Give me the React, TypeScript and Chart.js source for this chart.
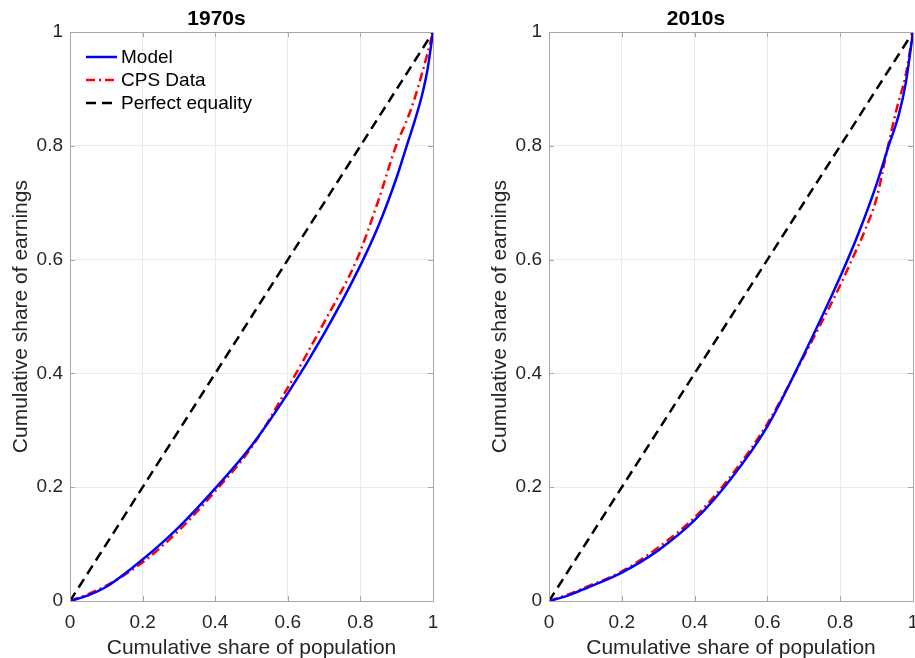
import React, { useEffect, useRef } from "react";
import { Chart, registerables } from "chart.js";
Chart.register(...registerables);

const FONT = "'Liberation Sans', Arial, Helvetica, sans-serif";

const tickValues = [0, 0.2, 0.4, 0.6, 0.8, 1];
const tickLabels = ["0", "0.2", "0.4", "0.6", "0.8", "1"];
const seriesNames = ["Model", "CPS Data", "Perfect equality"];
const panelTitles = ["1970s", "2010s"];
const xAxisTitle = "Cumulative share of population";
const yAxisTitle = "Cumulative share of earnings";

const equalityX = [0, 1];
const equalityY = [0, 1];

// 1970s
const model70X = [0, 0.05, 0.1, 0.2, 0.3, 0.4, 0.5, 0.6, 0.7, 0.8, 0.85, 0.9, 0.925, 0.95, 0.97, 0.985, 1];
const model70Y = [0, 0.01, 0.025, 0.073, 0.13, 0.198, 0.273, 0.365, 0.47, 0.59, 0.66, 0.745, 0.795, 0.845, 0.89, 0.935, 1];
const cps70X = [0, 0.05, 0.1, 0.2, 0.3, 0.4, 0.5, 0.6, 0.7, 0.79, 0.85, 0.898, 0.931, 0.95, 0.97, 1];
const cps70Y = [0, 0.012, 0.027, 0.068, 0.124, 0.193, 0.27, 0.375, 0.49, 0.6, 0.705, 0.8, 0.85, 0.885, 0.928, 1];

// 2010s
const model10X = [0, 0.05, 0.1, 0.2, 0.3, 0.4, 0.5, 0.6, 0.7, 0.8, 0.85, 0.9, 0.933, 0.961, 0.98, 1];
const model10Y = [0, 0.009, 0.022, 0.05, 0.089, 0.142, 0.215, 0.307, 0.433, 0.57, 0.646, 0.733, 0.8, 0.855, 0.91, 1];
const cps10X = [0, 0.05, 0.1, 0.2, 0.3, 0.4, 0.5, 0.6, 0.7, 0.8, 0.83, 0.87, 0.9, 0.928, 0.955, 0.98, 1];
const cps10Y = [0, 0.011, 0.024, 0.052, 0.094, 0.147, 0.22, 0.312, 0.43, 0.555, 0.597, 0.655, 0.708, 0.79, 0.865, 0.925, 1];

const seriesColors = ["#0000ff", "#ff0000", "#000000"];
const seriesDashes: number[][] = [[], [9, 4, 2, 4], [10, 6]];

const toPoints = (xs: number[], ys: number[]) => xs.map((x, i) => ({ x, y: ys[i] }));

const AXIS_COLOR = "#a6a6a6";

const boxPlugin = {
  id: "matlabBox",
  afterDraw(chart: any, _args: any, opts: any) {
    const { ctx, chartArea, scales } = chart;
    const { left, right, top, bottom } = chartArea;
    ctx.save();
    ctx.strokeStyle = AXIS_COLOR;
    ctx.lineWidth = 1;
    ctx.setLineDash([]);
    const tl = 5;
    ctx.beginPath();
    tickValues.forEach((v) => {
      const px = Math.round(scales.x.getPixelForValue(v)) + 0.5;
      ctx.moveTo(px, bottom);
      ctx.lineTo(px, bottom - tl);
      ctx.moveTo(px, top);
      ctx.lineTo(px, top + tl);
      const py = Math.round(scales.y.getPixelForValue(v)) + 0.5;
      ctx.moveTo(left, py);
      ctx.lineTo(left + tl, py);
      ctx.moveTo(right, py);
      ctx.lineTo(right - tl, py);
    });
    ctx.stroke();
    ctx.strokeRect(Math.round(left) + 0.5, Math.round(top) + 0.5, Math.round(right - left), Math.round(bottom - top));

    if (opts && opts.legend) {
      const ds = chart.data.datasets;
      const rows = [57, 80, 103];
      ctx.font = `19px ${FONT}`;
      ctx.textBaseline = "middle";
      ctx.textAlign = "left";
      ds.forEach((d: any, i: number) => {
        const y = rows[i];
        ctx.strokeStyle = d.borderColor;
        ctx.lineWidth = d.borderWidth;
        ctx.setLineDash(d.borderDash || []);
        ctx.beginPath();
        ctx.moveTo(left + 16, y);
        ctx.lineTo(left + 47, y);
        ctx.stroke();
        ctx.fillStyle = "#000";
        ctx.fillText(d.label, left + 51, y + 1);
      });
    }
    ctx.restore();
  },
};

function makeConfig(title: string, modelPts: any[], cpsPts: any[], padRight: number, legend: boolean): any {
  const datasets = [modelPts, cpsPts, toPoints(equalityX, equalityY)].map((pts, i) => ({
    label: seriesNames[i],
    data: pts,
    borderColor: seriesColors[i],
    backgroundColor: seriesColors[i],
    borderWidth: 2.5,
    borderDash: seriesDashes[i],
    pointRadius: 0,
    cubicInterpolationMode: "monotone",
    fill: false,
  }));
  const tickCb = (v: any) => {
    const idx = tickValues.findIndex((t) => Math.abs(t - v) < 1e-9);
    return idx >= 0 ? tickLabels[idx] : "";
  };
  const scaleBase = (isX: boolean) => ({
    type: "linear",
    min: 0,
    max: 1,
    afterBuildTicks: (s: any) => {
      s.ticks = tickValues.map((v) => ({ value: v }));
    },
    ticks: {
      callback: tickCb,
      font: { family: FONT, size: 19 },
      color: "#262626",
      padding: isX ? 10 : 7,
      maxRotation: 0,
      autoSkip: false,
    },
    grid: { color: "#ebebeb", drawTicks: false, lineWidth: 1 },
    border: { display: false },
    title: {
      display: true,
      text: isX ? xAxisTitle : yAxisTitle,
      font: { family: FONT, size: 21, lineHeight: 0.95 },
      color: "#262626",
      padding: isX ? { top: 0, bottom: 0 } : { top: 11, bottom: 0 },
    },
    afterFit: (s: any) => {
      if (isX) {
        s.height = 57;
        s.paddingLeft = 0;
        s.paddingRight = 0;
      } else {
        s.width = 70;
        s.paddingTop = 0;
        s.paddingBottom = 0;
      }
    },
  });
  return {
    type: "line",
    data: { datasets },
    options: {
      animation: false,
      responsive: false,
      layout: { padding: { left: 0, right: padRight, top: 0, bottom: 0 } },
      plugins: {
        legend: { display: false },
        tooltip: { enabled: false },
        title: {
          display: true,
          text: title,
          color: "#000",
          font: { family: FONT, size: 21, weight: "bold", lineHeight: 1.2 },
          padding: { top: 7, bottom: 0 },
        },
        matlabBox: { legend },
      },
      scales: { x: scaleBase(true), y: scaleBase(false) },
    },
    plugins: [boxPlugin],
  };
}

function Panel(props: { left: number; width: number; title: string; model: any[]; cps: any[]; padRight: number; legend: boolean }) {
  const ref = useRef<HTMLCanvasElement | null>(null);
  useEffect(() => {
    if (!ref.current) return;
    const chart = new Chart(ref.current, makeConfig(props.title, props.model, props.cps, props.padRight, props.legend));
    return () => chart.destroy();
  }, []);
  return (
    <canvas
      ref={ref}
      width={props.width}
      height={658}
      style={{ position: "absolute", left: props.left, top: 0, width: props.width, height: 658 }}
    />
  );
}

export default function App() {
  return (
    <div style={{ position: "absolute", left: 0, top: 0, width: 915, height: 658, background: "#fff" }}>
      <Panel left={0} width={460} title={panelTitles[0]} model={toPoints(model70X, model70Y)} cps={toPoints(cps70X, cps70Y)} padRight={27} legend={true} />
      <Panel left={479} width={436} title={panelTitles[1]} model={toPoints(model10X, model10Y)} cps={toPoints(cps10X, cps10Y)} padRight={2} legend={false} />
    </div>
  );
}
